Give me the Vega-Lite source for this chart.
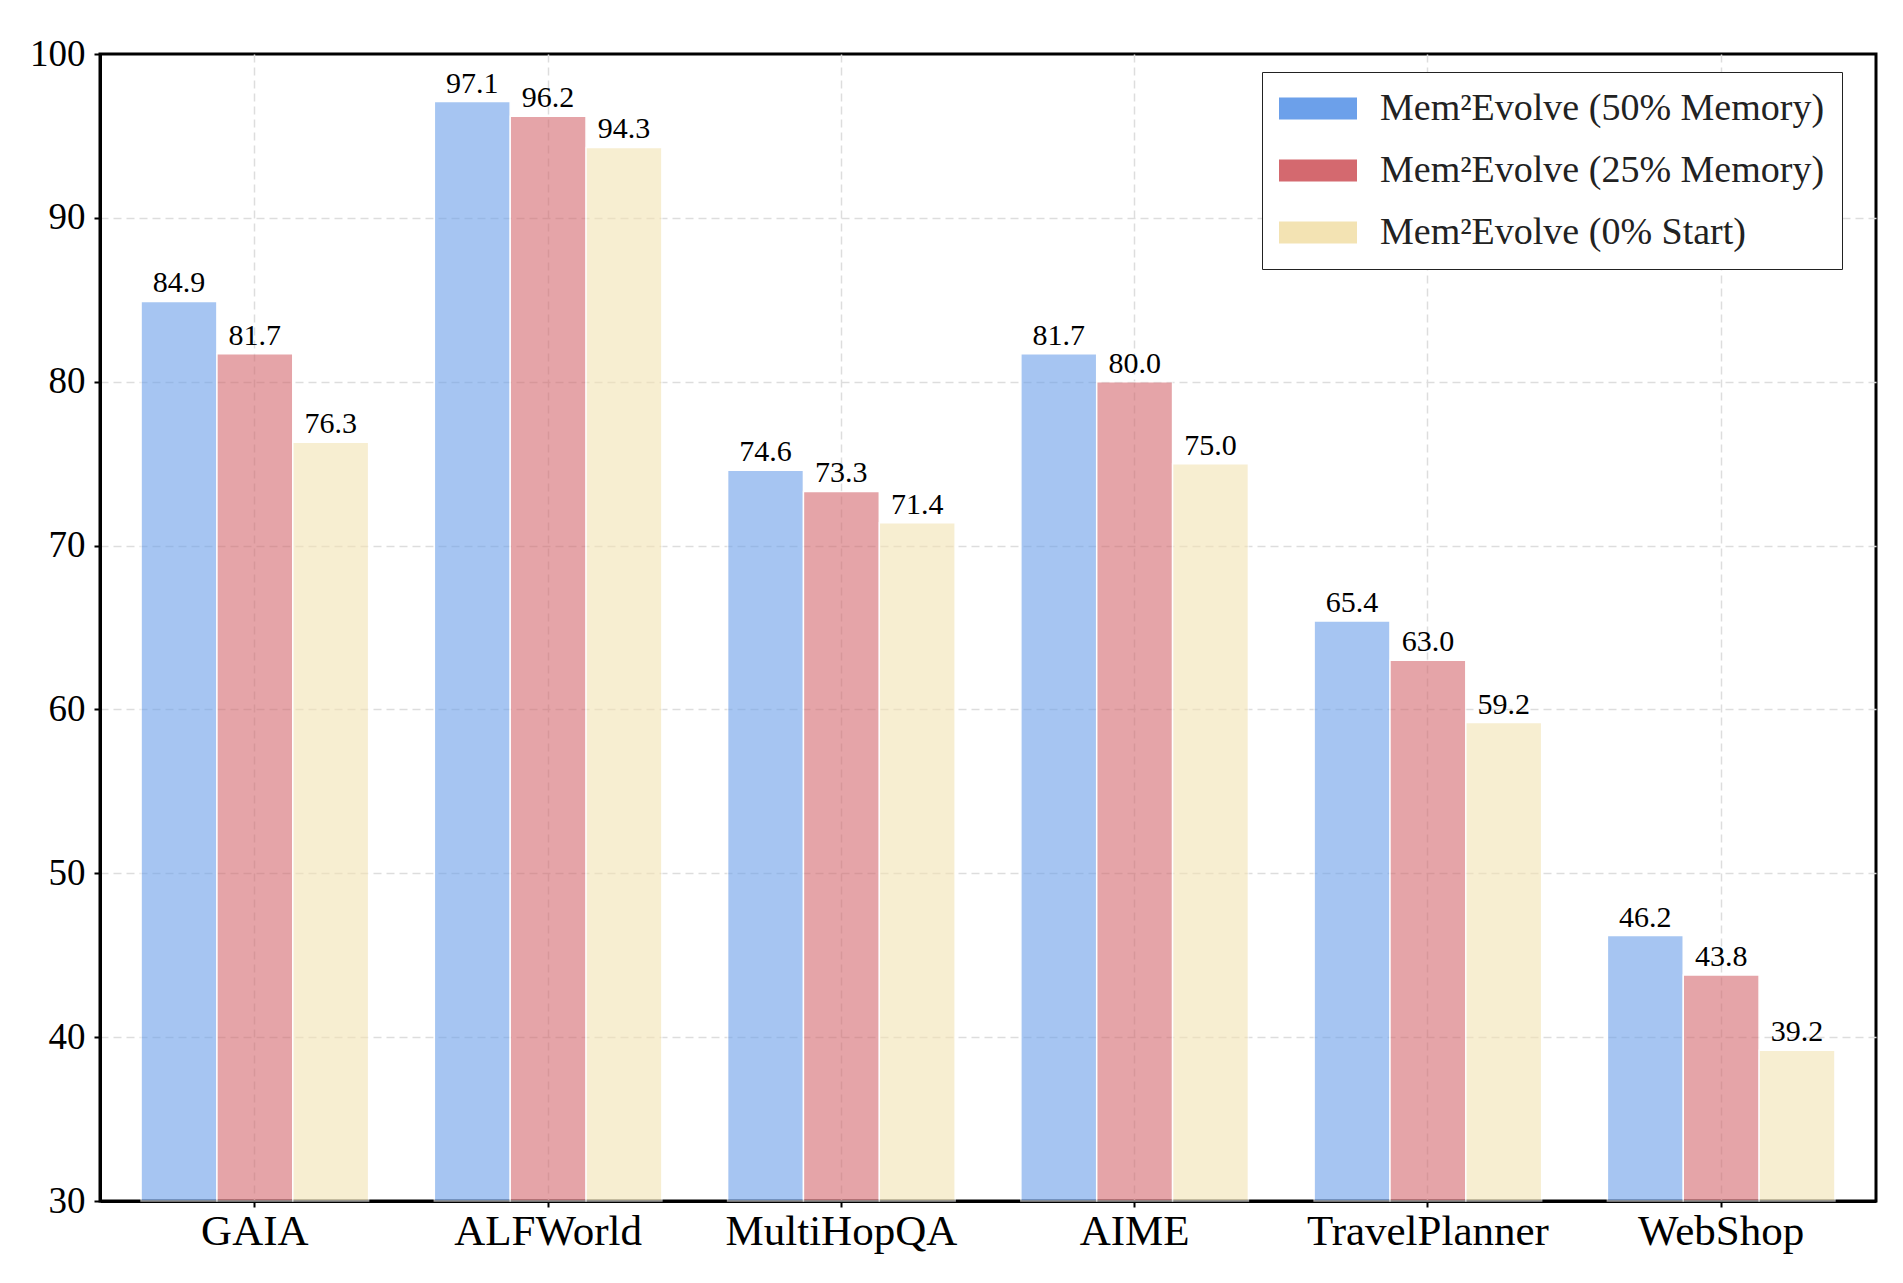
{
  "$schema": "https://vega.github.io/schema/vega-lite/v6.json",
  "autosize": {"type": "none"},
  "padding": {"left": 100, "top": 54, "right": 27, "bottom": 82},
  "width": 1776,
  "height": 1147,
  "background": "white",
  "data": {
    "values": [
      {"task": "GAIA", "setting": "Mem²Evolve (50% Memory)", "score": 84.9},
      {"task": "GAIA", "setting": "Mem²Evolve (25% Memory)", "score": 81.7},
      {"task": "GAIA", "setting": "Mem²Evolve (0% Start)", "score": 76.3},
      {"task": "ALFWorld", "setting": "Mem²Evolve (50% Memory)", "score": 97.1},
      {"task": "ALFWorld", "setting": "Mem²Evolve (25% Memory)", "score": 96.2},
      {"task": "ALFWorld", "setting": "Mem²Evolve (0% Start)", "score": 94.3},
      {"task": "MultiHopQA", "setting": "Mem²Evolve (50% Memory)", "score": 74.6},
      {"task": "MultiHopQA", "setting": "Mem²Evolve (25% Memory)", "score": 73.3},
      {"task": "MultiHopQA", "setting": "Mem²Evolve (0% Start)", "score": 71.4},
      {"task": "AIME", "setting": "Mem²Evolve (50% Memory)", "score": 81.7},
      {"task": "AIME", "setting": "Mem²Evolve (25% Memory)", "score": 80.0},
      {"task": "AIME", "setting": "Mem²Evolve (0% Start)", "score": 75.0},
      {"task": "TravelPlanner", "setting": "Mem²Evolve (50% Memory)", "score": 65.4},
      {"task": "TravelPlanner", "setting": "Mem²Evolve (25% Memory)", "score": 63.0},
      {"task": "TravelPlanner", "setting": "Mem²Evolve (0% Start)", "score": 59.2},
      {"task": "WebShop", "setting": "Mem²Evolve (50% Memory)", "score": 46.2},
      {"task": "WebShop", "setting": "Mem²Evolve (25% Memory)", "score": 43.8},
      {"task": "WebShop", "setting": "Mem²Evolve (0% Start)", "score": 39.2}
    ]
  },
  "encoding": {
    "x": {
      "field": "task",
      "type": "nominal",
      "sort": null,
      "scale": {"paddingInner": 0.224, "paddingOuter": 0.14},
      "axis": {
        "title": null,
        "labelAngle": 0,
        "labelFont": "Liberation Serif",
        "labelFontSize": 43,
        "labelPadding": 3,
        "labelLimit": 0,
        "bandPosition": 0.5,
        "grid": true
      }
    },
    "xOffset": {
      "field": "setting",
      "type": "nominal",
      "sort": null,
      "scale": {"paddingInner": 0, "paddingOuter": 0}
    },
    "y": {
      "field": "score",
      "type": "quantitative",
      "scale": {"domain": [30, 100], "zero": false, "nice": false},
      "axis": {
        "title": null,
        "values": [30, 40, 50, 60, 70, 80, 90, 100],
        "labelFont": "Liberation Serif",
        "labelFontSize": 37,
        "labelPadding": 9,
        "grid": true,
        "gridOpacity": {
          "condition": {"test": "datum.value === 100 || datum.value === 30", "value": 0},
          "value": 1
        }
      }
    }
  },
  "layer": [
    {
      "mark": {"type": "bar", "opacity": 0.6, "stroke": "white", "strokeWidth": 1.5, "strokeOpacity": 1},
      "encoding": {
        "y2": {"datum": 30},
        "color": {
          "field": "setting",
          "type": "nominal",
          "sort": null,
          "scale": {"range": ["#6ca0ea", "#d4696f", "#f3e3b3"]},
          "legend": {
            "title": null,
            "orient": "none",
            "legendX": 1162,
            "legendY": 18,
            "padding": 17,
            "strokeColor": "#222222",
            "fillColor": "white",
            "cornerRadius": 0,
            "symbolType": "M-1,-0.56H3V0.56H-1Z",
            "symbolSize": 1521,
            "symbolOpacity": 1,
            "symbolStrokeWidth": 0,
            "labelFont": "Liberation Serif",
            "labelFontSize": 38,
            "labelColor": "#222222",
            "labelOffset": 62,
            "labelLimit": 0,
            "rowPadding": 23
          }
        }
      }
    },
    {
      "mark": {"type": "text", "baseline": "bottom", "dy": -3, "font": "Liberation Serif", "fontSize": 30, "color": "black"},
      "encoding": {
        "text": {"field": "score", "type": "quantitative", "format": ".1f"}
      }
    }
  ],
  "config": {
    "font": "Liberation Serif",
    "view": {"stroke": "black", "strokeWidth": 3},
    "axis": {
      "labelColor": "black",
      "labelFont": "Liberation Serif",
      "domainColor": "black",
      "domainWidth": 3,
      "tickColor": "black",
      "tickWidth": 2,
      "tickSize": 6,
      "gridColor": "#dddddd",
      "gridDash": [8, 5],
      "gridWidth": 1.5
    },
    "legend": {"labelFont": "Liberation Serif"},
    "text": {"font": "Liberation Serif"}
  }
}
